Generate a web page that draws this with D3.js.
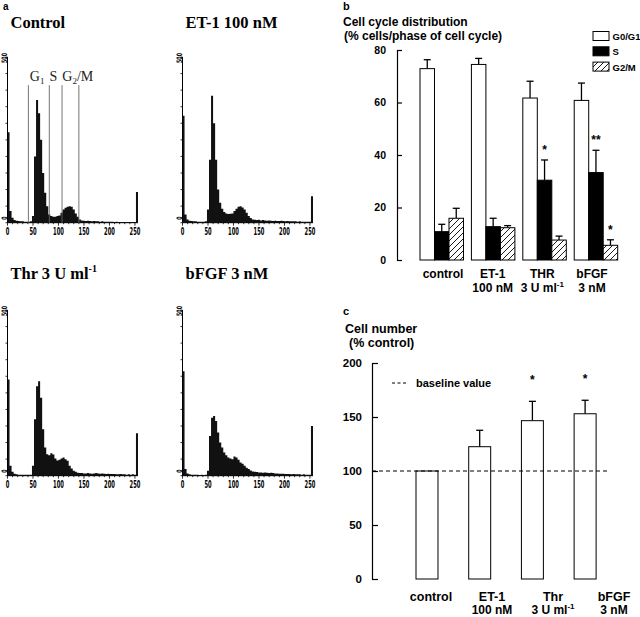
<!DOCTYPE html>
<html><head><meta charset="utf-8">
<script src="https://cdn.jsdelivr.net/npm/d3@7"></script>
<style>body{margin:0;background:#fff}svg{display:block}</style>
</head><body>
<svg id="chart" width="640" height="617"></svg>
<script>
// ---------- Panel a: DNA content histograms (counts per 4-channel bin, channel 0..255) ----------
const histChannels = d3.range(0, 256, 4);
const histControl = [273,35,15,8,6,5,4,4,3,3,3,4,20,200,370,330,250,150,90,50,25,20,18,18,20,22,30,40,45,48,50,48,40,28,18,10,7,6,5,6,5,4,5,4,4,3,4,3,3,3,3,3,2,3,2,2,2,2,2,2,2,2,2,93];
const histET1 = [323,25,10,6,5,4,4,3,3,3,3,4,40,190,383,300,190,100,60,42,32,28,26,27,28,35,42,48,50,46,40,30,20,14,10,9,8,9,7,8,7,6,7,6,5,6,5,5,6,5,4,5,4,4,4,4,3,4,3,3,3,3,3,80];
const histThr = [290,30,12,6,4,3,3,3,3,3,3,3,30,170,270,285,235,140,85,65,62,68,64,52,46,48,52,55,50,45,30,22,15,12,9,8,8,7,7,8,7,6,7,8,7,6,7,6,5,6,5,5,5,4,4,5,4,4,3,4,3,4,3,128];
const histBFGF = [315,20,7,4,3,3,3,3,2,3,2,3,15,120,175,180,165,130,100,85,70,62,55,52,50,58,55,48,40,36,30,24,20,16,13,12,11,10,10,9,10,9,8,9,8,7,7,6,6,6,5,5,5,4,5,4,4,4,3,4,3,3,3,150];
const histTitles = ["Control", "ET-1 100 nM", "Thr 3 U ml^-1", "bFGF 3 nM"];
const histXTicks = [0, 50, 100, 150, 200, 250];
const histYMax = 500;
const gateChannels = [41, 82, 107, 140];
const gateTop = 415;
const gateLabels = [{main:"G", sub:"1", rest:"", ch:58}, {main:"S", sub:"", rest:"", ch:90}, {main:"G", sub:"2", rest:"/M", ch:138}];

// ---------- Panel b: cell cycle distribution ----------
const cycleGroups = ["control", "ET-1", "THR", "bFGF"];
const cycleLabel2 = ["", "100 nM", "3 U ml^-1", "3 nM"];
const cyclePhases = ["G0/G1", "S", "G2/M"];
const g0g1Mean = [72.9, 74.5, 61.7, 60.8];
const g0g1Err  = [3.4, 2.3, 6.4, 6.6];
const sMean    = [10.8, 12.7, 30.4, 33.3];
const sErr     = [2.8, 3.2, 7.7, 8.5];
const g2mMean  = [15.9, 12.3, 7.6, 5.6];
const g2mErr   = [3.8, 0.8, 1.5, 2.1];
const g0g1Sig  = ["", "", "", ""];
const sSig     = ["", "", "*", "**"];
const g2mSig   = ["", "", "", "*"];
const cycleTicks = [0, 20, 40, 60, 80];

// ---------- Panel c: cell number ----------
const numGroups = ["control", "ET-1", "Thr", "bFGF"];
const numLabel2 = ["", "100 nM", "3 U ml^-1", "3 nM"];
const numMean = [100, 122.5, 146.6, 153];
const numErr  = [0, 15.2, 17.9, 12.5];
const numSig  = ["", "", "*", "*"];
const numTicks = [0, 50, 100, 150, 200];
const baselineValue = 100;

// ---------------------------------------------------------------
const svg = d3.select("#chart");
const sans = "'Liberation Sans', Arial, sans-serif";
const serif = "'Liberation Serif', 'Times New Roman', serif";
const narrow = "'Liberation Sans Narrow', 'DejaVu Sans Condensed', sans-serif";

function supText(sel, str, supSize, dy) {
  const parts = str.split("^");
  sel.append("tspan").text(parts[0]);
  if (parts[1]) sel.append("tspan").attr("dy", dy).attr("font-size", supSize).text(parts[1]);
}

// ---------- Panel a ----------
svg.append("text").attr("x", 3).attr("y", 10).attr("font-family", sans).attr("font-weight", "bold")
  .attr("font-size", 10).text("a");

const panels = [
  {data: histControl, title: histTitles[0], x0: 7.5, base: 222.7, ty: 28.3, gates: true},
  {data: histET1, title: histTitles[1], x0: 182.5, base: 222.7, ty: 28.3, gates: false},
  {data: histThr, title: histTitles[2], x0: 7.5, base: 475.7, ty: 279, gates: false},
  {data: histBFGF, title: histTitles[3], x0: 182.5, base: 475.7, ty: 279, gates: false}
];

panels.forEach(p => {
  const g = svg.append("g");
  const x = d3.scaleLinear().domain([0, 256]).range([p.x0, p.x0 + 130.5]);
  const y = d3.scaleLinear().domain([0, histYMax]).range([p.base, p.base - 165.7]);
  const pts = histChannels.map((c, i) => [c, p.data[i]]);
  pts.push([256, p.data[p.data.length - 1]]);
  const area = d3.area().curve(d3.curveStepAfter).x(d => x(d[0])).y0(y(0)).y1(d => y(d[1]));
  g.append("path").attr("d", area(pts)).attr("fill", "#111");

  // axes
  g.append("line").attr("x1", x(0)).attr("x2", x(0)).attr("y1", y(0)).attr("y2", y(histYMax))
    .attr("stroke", "#000").attr("stroke-width", 1);
  g.append("line").attr("x1", x(0)).attr("x2", x(256)).attr("y1", y(0)).attr("y2", y(0))
    .attr("stroke", "#000").attr("stroke-width", 1);
  d3.range(0, histYMax + 1, 50).forEach(v => {
    g.append("line").attr("x1", x(0) - 2).attr("x2", x(0)).attr("y1", y(v)).attr("y2", y(v))
      .attr("stroke", "#000").attr("stroke-width", 0.8);
  });
  d3.range(0, 251, 10).forEach(v => {
    const major = histXTicks.includes(v);
    g.append("line").attr("x1", x(v)).attr("x2", x(v)).attr("y1", y(0)).attr("y2", y(0) + (major ? 3 : 1.5))
      .attr("stroke", "#000").attr("stroke-width", 0.8);
  });
  histXTicks.forEach(v => {
    const s = String(v);
    g.append("text").attr("x", x(v)).attr("y", y(0) + 12).attr("text-anchor", "middle")
      .attr("font-family", narrow).attr("font-size", 10.5).attr("font-weight", "bold")
      .attr("textLength", s.length * 3.6).attr("lengthAdjust", "spacingAndGlyphs").text(s);
  });
  [[histYMax, "500"], [0, "0"]].forEach(([v, s]) => {
    g.append("text").attr("transform", `translate(${x(0) - 0.8},${y(v) - (v ? -1 : 3)}) rotate(-90)`)
      .attr("text-anchor", v ? "middle" : "start").attr("font-family", narrow).attr("font-size", 7.5)
      .attr("font-weight", "bold").attr("textLength", s.length * 3.3).attr("lengthAdjust", "spacingAndGlyphs").text(s);
  });

  // title
  const t = g.append("text").attr("x", p.x0 + 3).attr("y", p.ty)
    .attr("font-family", serif).attr("font-weight", "bold").attr("font-size", 16.5);
  supText(t, p.title, 10, -7);

  if (p.gates) {
    gateChannels.forEach(c => {
      g.append("line").attr("x1", x(c)).attr("x2", x(c)).attr("y1", y(0)).attr("y2", y(gateTop))
        .attr("stroke", "#666").attr("stroke-width", 0.9);
    });
    gateLabels.forEach(l => {
      const tt = g.append("text").attr("x", x(l.ch)).attr("y", y(gateTop) - 4).attr("text-anchor", "middle")
        .attr("font-family", serif).attr("font-size", 14).attr("fill", "#222");
      tt.append("tspan").text(l.main);
      if (l.sub) tt.append("tspan").attr("dy", 3).attr("font-size", 9).text(l.sub);
      if (l.rest) tt.append("tspan").attr("dy", -3).text(l.rest);
    });
  }
});

// ---------- Panel b ----------
const defs = svg.append("defs");
const pat = defs.append("pattern").attr("id", "hatch").attr("patternUnits", "userSpaceOnUse")
  .attr("width", 6).attr("height", 6);
pat.append("rect").attr("width", 6).attr("height", 6).attr("fill", "#fff");
pat.append("path").attr("d", "M-1,1 L1,-1 M0,6 L6,0 M5,7 L7,5").attr("stroke", "#000").attr("stroke-width", 0.9);

const bG = svg.append("g");
bG.append("text").attr("x", 343).attr("y", 10).attr("font-family", sans).attr("font-weight", "bold")
  .attr("font-size", 11).text("b");
bG.append("text").attr("x", 343).attr("y", 26).attr("font-family", sans).attr("font-weight", "bold")
  .attr("font-size", 12).text("Cell cycle distribution");
bG.append("text").attr("x", 344).attr("y", 40).attr("font-family", sans).attr("font-weight", "bold")
  .attr("font-size", 12).text("(% cells/phase of cell cycle)");

const bx = d3.scaleBand().domain(cycleGroups).range([420, 617.7]).paddingInner(0.154).paddingOuter(0);
const bSub = d3.scaleBand().domain(cyclePhases).range([0, bx.bandwidth()]);
const by = d3.scaleLinear().domain([0, 80]).range([260, 50]);
const phaseFill = {"G0/G1": "#fff", "S": "#000", "G2/M": "url(#hatch)"};
const phaseSeries = [
  {phase: "G0/G1", mean: g0g1Mean, err: g0g1Err, sig: g0g1Sig},
  {phase: "S", mean: sMean, err: sErr, sig: sSig},
  {phase: "G2/M", mean: g2mMean, err: g2mErr, sig: g2mSig}
];

const bAxis = d3.axisLeft(by).tickValues(cycleTicks).tickSizeInner(-5).tickSizeOuter(0).tickPadding(11);
const bAx = bG.append("g").attr("transform", "translate(397,0)").call(bAxis);
bAx.selectAll("path,line").attr("stroke", "#000").attr("stroke-width", 1.2);
bAx.selectAll("text").attr("font-family", sans).attr("font-weight", "bold").attr("font-size", 10.5).attr("fill", "#000");

phaseSeries.forEach(s => {
  cycleGroups.forEach((grp, i) => {
    const x0 = bx(grp) + bSub(s.phase);
    const w = bSub.bandwidth();
    const cx = x0 + w / 2;
    const top = by(s.mean[i]);
    const etop = by(s.mean[i] + s.err[i]);
    bG.append("line").attr("x1", cx).attr("x2", cx).attr("y1", top).attr("y2", etop)
      .attr("stroke", "#000").attr("stroke-width", 1.3);
    bG.append("line").attr("x1", cx - 3.5).attr("x2", cx + 3.5).attr("y1", etop).attr("y2", etop)
      .attr("stroke", "#000").attr("stroke-width", 1.3);
    bG.append("rect").attr("x", x0).attr("y", top).attr("width", w).attr("height", by(0) - top)
      .attr("fill", phaseFill[s.phase]).attr("stroke", "#000").attr("stroke-width", 1);
    if (s.sig[i]) {
      bG.append("text").attr("x", cx).attr("y", etop - 6).attr("text-anchor", "middle")
        .attr("font-family", sans).attr("font-weight", "bold").attr("font-size", 12).text(s.sig[i]);
    }
  });
});

const bLab = d3.scalePoint().domain(cycleGroups).range([443, 592]);
cycleGroups.forEach((grp, i) => {
  bG.append("text").attr("x", bLab(grp)).attr("y", 278).attr("text-anchor", "middle")
    .attr("font-family", sans).attr("font-weight", "bold").attr("font-size", 12).text(grp);
  if (cycleLabel2[i]) {
    const t = bG.append("text").attr("x", bLab(grp)).attr("y", 292).attr("text-anchor", "middle")
      .attr("font-family", sans).attr("font-weight", "bold").attr("font-size", 12);
    supText(t, cycleLabel2[i], 8, -5);
  }
});

// legend b
cyclePhases.forEach((ph, i) => {
  const ly = 31.5 + i * 15.3;
  bG.append("rect").attr("x", 593).attr("y", ly).attr("width", 16).attr("height", 9)
    .attr("fill", phaseFill[ph]).attr("stroke", "#000").attr("stroke-width", 1);
  bG.append("text").attr("x", 612.5).attr("y", ly + 8.5).attr("font-family", sans).attr("font-weight", "bold")
    .attr("font-size", 9.5).text(ph);
});

// ---------- Panel c ----------
const cG = svg.append("g");
cG.append("text").attr("x", 343).attr("y", 315).attr("font-family", sans).attr("font-weight", "bold")
  .attr("font-size", 11).text("c");
cG.append("text").attr("x", 345).attr("y", 333).attr("font-family", sans).attr("font-weight", "bold")
  .attr("font-size", 12.5).text("Cell number");
cG.append("text").attr("x", 349).attr("y", 347).attr("font-family", sans).attr("font-weight", "bold")
  .attr("font-size", 12.5).text("(% control)");

const cx = d3.scaleBand().domain(numGroups).range([416, 596.1]).paddingInner(0.583).paddingOuter(0);
const cy = d3.scaleLinear().domain([0, 200]).range([579, 363]);
const cAxis = d3.axisLeft(cy).tickValues(numTicks).tickSizeInner(-6).tickSizeOuter(0).tickPadding(10);
const cAx = cG.append("g").attr("transform", "translate(372,0)").call(cAxis);
cAx.selectAll("path,line").attr("stroke", "#000").attr("stroke-width", 1.2);
cAx.selectAll("text").attr("font-family", sans).attr("font-weight", "bold").attr("font-size", 11.5).attr("fill", "#000");

numGroups.forEach((grp, i) => {
  const x0 = cx(grp), w = cx.bandwidth(), mid = x0 + w / 2;
  const top = cy(numMean[i]);
  if (numErr[i] > 0) {
    const etop = cy(numMean[i] + numErr[i]);
    cG.append("line").attr("x1", mid).attr("x2", mid).attr("y1", top).attr("y2", etop)
      .attr("stroke", "#000").attr("stroke-width", 1.3);
    cG.append("line").attr("x1", mid - 3.5).attr("x2", mid + 3.5).attr("y1", etop).attr("y2", etop)
      .attr("stroke", "#000").attr("stroke-width", 1.3);
    if (numSig[i]) {
      cG.append("text").attr("x", mid).attr("y", etop - 17).attr("text-anchor", "middle")
        .attr("font-family", sans).attr("font-weight", "bold").attr("font-size", 12).text(numSig[i]);
    }
  }
  cG.append("rect").attr("x", x0).attr("y", top).attr("width", w).attr("height", cy(0) - top)
    .attr("fill", "#fff").attr("stroke", "#000").attr("stroke-width", 1);
});

cG.append("line").attr("x1", 372).attr("x2", 610).attr("y1", cy(baselineValue)).attr("y2", cy(baselineValue))
  .attr("stroke", "#000").attr("stroke-width", 1).attr("stroke-dasharray", "4,3");
cG.append("line").attr("x1", 392).attr("x2", 407).attr("y1", 383).attr("y2", 383)
  .attr("stroke", "#000").attr("stroke-width", 1).attr("stroke-dasharray", "3,2.5");
cG.append("text").attr("x", 416).attr("y", 387).attr("font-family", sans).attr("font-weight", "bold")
  .attr("font-size", 11).text("baseline value");

const cLab = d3.scalePoint().domain(numGroups).range([431, 614]);
numGroups.forEach((grp, i) => {
  cG.append("text").attr("x", cLab(grp)).attr("y", 600.5).attr("text-anchor", "middle")
    .attr("font-family", sans).attr("font-weight", "bold").attr("font-size", 12.5).text(grp);
  if (numLabel2[i]) {
    const t = cG.append("text").attr("x", cLab(grp)).attr("y", 613.5).attr("text-anchor", "middle")
      .attr("font-family", sans).attr("font-weight", "bold").attr("font-size", 12);
    supText(t, numLabel2[i], 8, -5);
  }
});
</script>
</body></html>
